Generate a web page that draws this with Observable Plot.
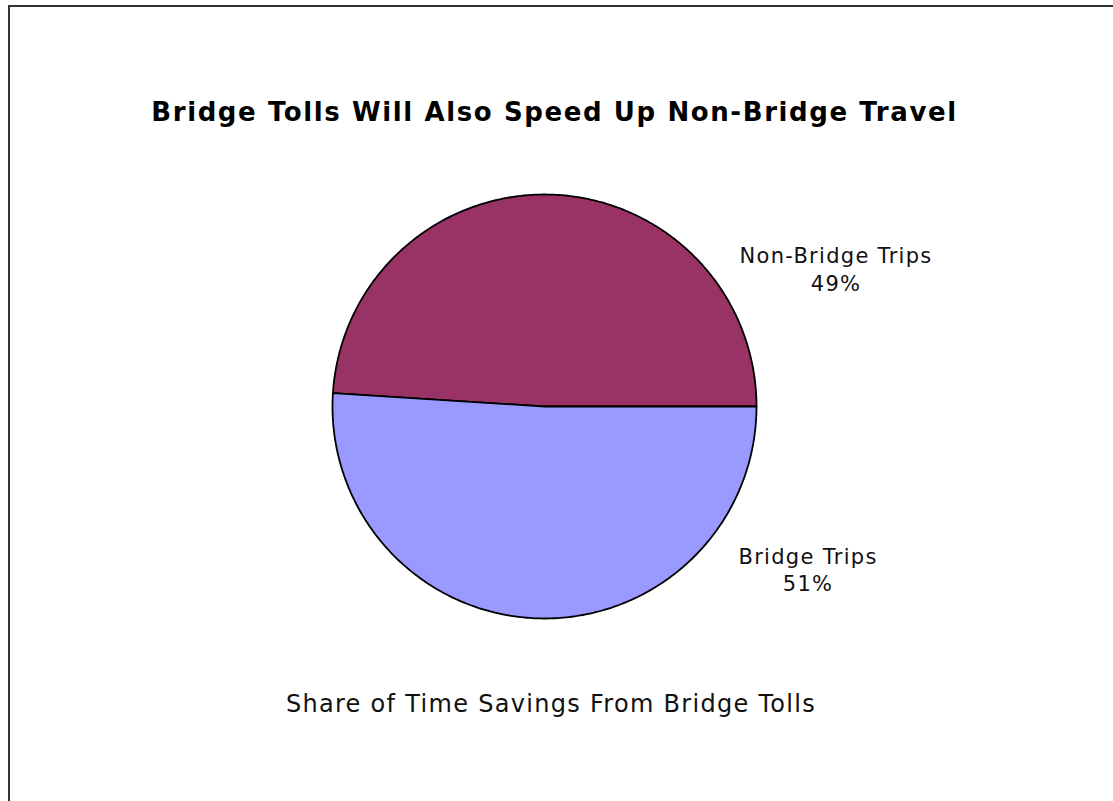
<!DOCTYPE html>
<html><head><meta charset="utf-8">
<script src="https://cdn.jsdelivr.net/npm/d3@7"></script>
<script src="https://cdn.jsdelivr.net/npm/@observablehq/plot@0.6"></script>
<style>
body{margin:0;background:#fff;overflow:hidden}
#wrap{position:relative;width:1113px;height:801px;overflow:hidden}
#border{position:absolute;left:8px;top:5px;width:1200px;height:900px;border-left:2px solid #333;border-top:2px solid #333}
#chart{position:absolute;left:0;top:0}
</style></head><body><div id="wrap"><div id="border"></div><div id="chart"></div></div>
<script>
const categories = ["Non-Bridge Trips", "Bridge Trips"];
const shares = [49, 51];
const colors = ["#993366", "#9999FF"];
const title = "Bridge Tolls Will Also Speed Up Non-Bridge Travel";
const subtitle = "Share of Time Savings From Bridge Tolls";

const W = 1113, H = 801;
const cx = 544, cy = 406, R = 212;
// unit circle mapped through linear scales
const xDomain = [-cx / R, (W - cx) / R];
const yDomain = [-(H - cy) / R, cy / R];

const total = d3.sum(shares);
const slices = [];
let a0 = 0;
categories.forEach((c, i) => {
  const a1 = a0 + shares[i] / total * 2 * Math.PI;
  slices.push({name: c, value: shares[i], a0, a1});
  a0 = a1;
});
const polyPts = [];
for (const s of slices) {
  polyPts.push({name: s.name, x: 0, y: 0});
  const n = 240;
  for (let k = 0; k <= n; k++) {
    const a = s.a0 + (s.a1 - s.a0) * k / n;
    polyPts.push({name: s.name, x: Math.cos(a), y: Math.sin(a)});
  }
}
// label placement (angle in degrees, radius in unit-circle terms)
const labelPlace = {"Non-Bridge Trips": [25.06, 1.515], "Bridge Trips": [-31.96, 1.462]};
const labels = slices.map(s => {
  const [deg, r] = labelPlace[s.name];
  const a = deg * Math.PI / 180;
  return {x: r * Math.cos(a), y: r * Math.sin(a), text: `${s.name}\n${Math.round(s.value / total * 100)}%`};
});

const font = "DejaVu Sans, Verdana, sans-serif";
const chart = Plot.plot({
  width: W, height: H,
  margin: 0,
  x: {domain: xDomain, axis: null},
  y: {domain: yDomain, axis: null},
  color: {domain: categories, range: colors},
  style: {fontFamily: font, background: "transparent"},
  marks: [
    Plot.line(polyPts, {x: "x", y: "y", z: "name", fill: "name", stroke: "#000", strokeWidth: 1.8, curve: "linear-closed"}),
    Plot.text(labels, {x: "x", y: "y", dx: 0.6, dy: -2, text: "text", fontSize: 21, lineHeight: 1.33, fill: "#111"}),
    Plot.text([title], {frameAnchor: "top", dx: -2.5, dy: 112, lineAnchor: "middle", fontSize: 26, fontWeight: "bold", fill: "#000"}),
    Plot.text([subtitle], {frameAnchor: "top", dx: -6, dy: 704, lineAnchor: "middle", fontSize: 24, fill: "#111"})
  ]
});
const textGroups = chart.querySelectorAll('g[aria-label="text"]');
const spacings = ["1.3px", "1.6px", "1.3px"];
textGroups.forEach((g, i) => { g.style.letterSpacing = spacings[i]; });
document.getElementById("chart").appendChild(chart);
</script></body></html>
